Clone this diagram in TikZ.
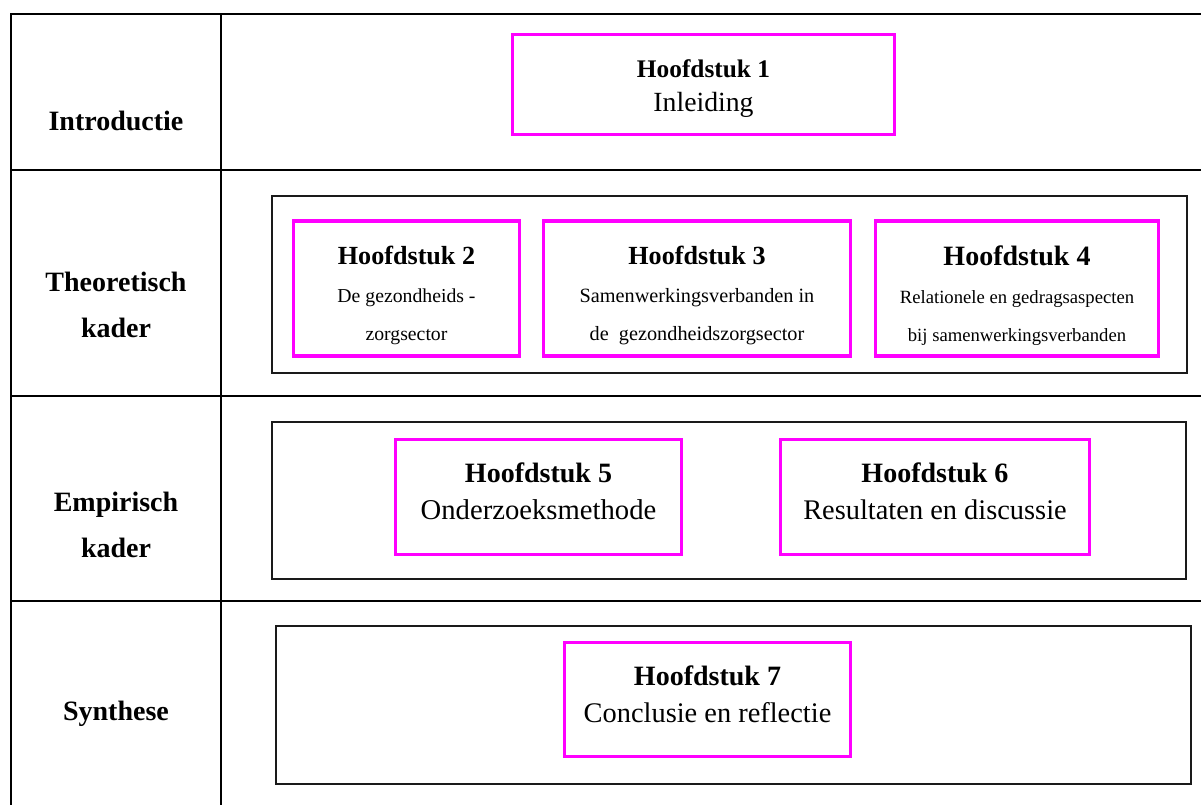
\documentclass[tikz,border=0pt]{standalone}
\usepackage{fontspec}
\setmainfont{Liberation Serif}
\usetikzlibrary{positioning}
\definecolor{lijn}{HTML}{000000}
\definecolor{kaderlijn}{HTML}{1A1A1A}
\definecolor{paars}{HTML}{FF00FF}
\newcommand{\px}{0.75pt}
\newcommand{\kop}[2][19.6]{{\bfseries\fontsize{#1}{#1}\selectfont #2}}
\tikzset{
  grid/.style={draw=lijn, line width=1.6pt},
  frame/.style={draw=kaderlijn, line width=1.2pt},
  chap/.style={draw=paars, line width=2.3pt, inner sep=0pt},
  tekst/.style={align=center, inner sep=0pt},
  lab/.style={font=\bfseries\fontsize{21}{35}\selectfont, align=center},
}

\begin{document}
\begin{tikzpicture}[x=\px, y=-\px]
\useasboundingbox (0,0) rectangle (1201,805);
% tabel
\draw[grid] (1201,14) -| (11,805);
\draw[grid] (221,14) -- (221,805);
\draw[grid] (11,170) -- (1201,170);
\draw[grid] (11,396) -- (1201,396);
\draw[grid] (11,601) -- (1201,601);

% linker kolom
\node[lab] (intro) at (116,121) {Introductie};
\node[lab] (theo) at (116,305) {Theoretisch\\kader};
\node[lab] (emp) at (116,525) {Empirisch\\kader};
\node[lab] (syn) at (116,714) {Synthese};

% kaders
\draw[frame] (272,196) rectangle (1187,373);
\draw[frame] (272,422) rectangle (1186,579);
\draw[frame] (276,626) rectangle (1191,784);

% hoofdstukken
\node[chap, minimum width=382*\px, minimum height=100*\px] (h1) at (703.5,84.5) {};
\node[chap, minimum width=226*\px, minimum height=135*\px] (h2) at (406.5,288.5) {};
\node[chap, minimum width=307*\px, minimum height=135*\px] (h3) at (697,288.5) {};
\node[chap, minimum width=283*\px, minimum height=135*\px] (h4) at (1017,288.5) {};
\node[chap, minimum width=286*\px, minimum height=115*\px] (h5) at (538.5,497) {};
\node[chap, minimum width=309*\px, minimum height=115*\px] (h6) at (935,497) {};
\node[chap, minimum width=286*\px, minimum height=114*\px] (h7) at (707.5,699.5) {};

% teksten
\node[tekst, font=\fontsize{20.8}{26}\selectfont, yshift=-4*\px] (t1) at (h1)
  {\kop[19]{Hoofdstuk 1}\\Inleiding};
\node[tekst, font=\fontsize{14.8}{28.5}\selectfont, yshift=-7*\px] (t2) at (h2)
  {\kop{Hoofdstuk 2}\\De gezondheids -\\zorgsector};
\node[tekst, font=\fontsize{15.2}{28.5}\selectfont, yshift=-7*\px] (t3) at (h3)
  {\kop{Hoofdstuk 3}\\Samenwerkingsverbanden in\\de~~gezondheidszorgsector};
\node[tekst, font=\fontsize{14}{28.5}\selectfont, yshift=-7*\px] (t4) at (h4)
  {\kop[21]{Hoofdstuk 4}\\Relationele en gedragsaspecten\\bij samenwerkingsverbanden};
\node[tekst, font=\fontsize{21.5}{28}\selectfont, yshift=6*\px] (t5) at (h5)
  {\kop[21]{Hoofdstuk 5}\\Onderzoeksmethode};
\node[tekst, font=\fontsize{21.3}{28}\selectfont, yshift=6*\px] (t6) at (h6)
  {\kop[21]{Hoofdstuk 6}\\Resultaten en discussie};
\node[tekst, font=\fontsize{21.3}{28}\selectfont, yshift=5*\px] (t7) at (h7)
  {\kop[21]{Hoofdstuk 7}\\Conclusie en reflectie};
\end{tikzpicture}
\end{document}
